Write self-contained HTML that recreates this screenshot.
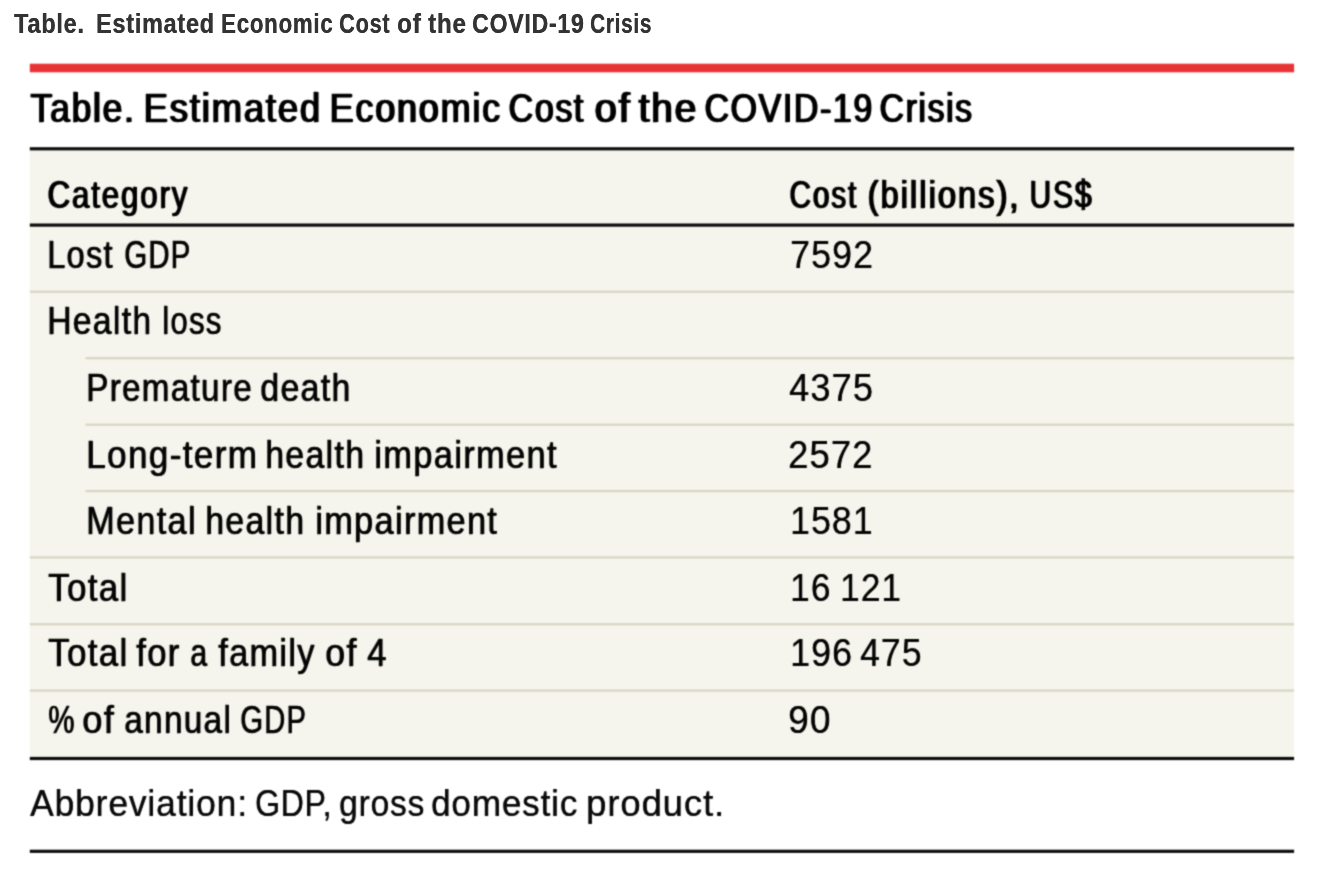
<!DOCTYPE html>
<html lang="en">
<head>
<meta charset="utf-8">
<title>Table. Estimated Economic Cost of the COVID-19 Crisis</title>
<style>
html,body{margin:0;padding:0;background:#fff}
body{width:1342px;height:883px;position:relative;overflow:hidden;font-family:'Liberation Sans', sans-serif}
figure{margin:0;padding:0}
.table-image{position:absolute;left:0;top:0;width:1342px;height:883px;filter:url(#soft);}
.rules{position:absolute;left:0;top:0;width:1342px;height:883px;display:block}
.w{position:absolute;display:block;white-space:pre;line-height:1;margin:0;padding:0;transform-origin:0 0;font-family:'Liberation Sans', sans-serif;font-weight:400;font-style:normal}
table{border-collapse:collapse;border-spacing:0;margin:0;padding:0}
td,th{padding:0;margin:0;border:0;font-weight:400;text-align:left}
h1,h2,p,figcaption{margin:0;padding:0;font-weight:400}
.cap .w{font-size:26.8px;color:#333333;-webkit-text-stroke:0px #333333;text-shadow:0.4px 0 0 #333333;letter-spacing:0.9px;font-weight:700}
.title .w{font-size:40.6px;color:#000000;-webkit-text-stroke:0.45px #000000;text-shadow:1.8px 0 0 #000000;letter-spacing:2.0px}
.head .w{font-size:38.8px;color:#000000;-webkit-text-stroke:0.45px #000000;text-shadow:1.75px 0 0 #000000;letter-spacing:2.4px}
.row .w{font-size:39.2px;color:#050505;-webkit-text-stroke:0.3px #050505;text-shadow:0.85px 0 0 #050505;letter-spacing:1.6px}
.num .w{font-size:39.2px;color:#050505;-webkit-text-stroke:0px #050505;text-shadow:0.3px 0 0 #050505;letter-spacing:1.2px}
.foot .w{font-size:37.4px;color:#0a0a0a;-webkit-text-stroke:0.1px #0a0a0a;text-shadow:0.25px 0 0 #0a0a0a;letter-spacing:0.9px}
</style>
</head>
<body>
<svg width="0" height="0" style="position:absolute" aria-hidden="true"><defs><filter id="soft" x="0" y="0" width="100%" height="100%" color-interpolation-filters="sRGB"><feConvolveMatrix order="3" kernelMatrix="0.0400 0.1200 0.0400 0.1200 0.3600 0.1200 0.0400 0.1200 0.0400" divisor="1" edgeMode="duplicate" preserveAlpha="false"/></filter></defs></svg>
<figure>
<figcaption class="cap"><span class="w" style="left:14.03px;top:11px;transform:scaleX(0.8735)">Table.</span>  <span class="w" style="left:96.34px;top:11px;transform:scaleX(0.8712)">Estimated</span> <span class="w" style="left:220.71px;top:11px;transform:scaleX(0.8302)">Economic</span> <span class="w" style="left:339.01px;top:11px;transform:scaleX(0.8099)">Cost</span> <span class="w" style="left:396.54px;top:11px;transform:scaleX(0.9024)">of</span> <span class="w" style="left:427.74px;top:11px;transform:scaleX(0.8991)">the</span> <span class="w" style="left:472.06px;top:11px;transform:scaleX(0.8592)">COVID-19</span> <span class="w" style="left:590.35px;top:11px;transform:scaleX(0.7751)">Crisis</span></figcaption>
<div class="table-image">
<svg class="rules" width="1342" height="883" viewBox="0 0 1342 883" aria-hidden="true">
<rect x="29.8" y="63.7" width="1264.3" height="8.6" fill="#e83336"/>
<rect x="29.8" y="148.7" width="1264.3" height="609.6" fill="#f5f5ed"/>
<rect x="29.8" y="290.65" width="1264.3" height="2.3" fill="#d9d5c6"/>
<rect x="85.6" y="357.05" width="1208.5" height="2.3" fill="#d9d5c6"/>
<rect x="85.6" y="423.55" width="1208.5" height="2.3" fill="#d9d5c6"/>
<rect x="85.6" y="489.95" width="1208.5" height="2.3" fill="#d9d5c6"/>
<rect x="29.8" y="556.25" width="1264.3" height="2.3" fill="#d9d5c6"/>
<rect x="29.8" y="623.05" width="1264.3" height="2.3" fill="#d9d5c6"/>
<rect x="29.8" y="689.45" width="1264.3" height="2.3" fill="#d9d5c6"/>
<rect x="29.8" y="147.20" width="1264.3" height="3.2" fill="#0c0c0c"/>
<rect x="29.8" y="223.50" width="1264.3" height="3.2" fill="#0c0c0c"/>
<rect x="29.8" y="756.90" width="1264.3" height="3.2" fill="#0c0c0c"/>
<rect x="29.8" y="849.70" width="1264.3" height="3.2" fill="#0c0c0c"/>
</svg>
<h2 class="title"><span class="w" style="left:30.26px;top:88px;transform:scaleX(0.8730)">Table.</span> <span class="w" style="left:143.16px;top:88px;transform:scaleX(0.8987)">Estimated</span> <span class="w" style="left:328.70px;top:88px;transform:scaleX(0.8867)">Economic</span> <span class="w" style="left:508.45px;top:88px;transform:scaleX(0.8359)">Cost</span> <span class="w" style="left:594.15px;top:88px;transform:scaleX(0.9729)">of</span> <span class="w" style="left:638.19px;top:88px;transform:scaleX(0.9510)">the</span> <span class="w" style="left:703.95px;top:88px;transform:scaleX(0.8331)">COVID-19</span> <span class="w" style="left:878.96px;top:88px;transform:scaleX(0.8288)">Crisis</span></h2>
<table>
<thead class="head">
<tr>
<th><span class="w" style="left:47.49px;top:176px;transform:scaleX(0.8023)">Category</span></th>
<th><span class="w" style="left:788.65px;top:176px;transform:scaleX(0.7667)">Cost</span> <span class="w" style="left:867.31px;top:176px;transform:scaleX(0.8420)">(billions),</span> <span class="w" style="left:1028.56px;top:176px;transform:scaleX(0.7720)">US$</span></th>
</tr>
</thead>
<tbody class="row">
<tr>
<td><span class="w" style="left:46.81px;top:235px;transform:scaleX(0.8279)">Lost</span> <span class="w" style="left:123.63px;top:235px;transform:scaleX(0.7497)">GDP</span></td>
<td class="num"><span class="w" style="left:790.17px;top:235px;transform:scaleX(0.9119)">7592</span></td>
</tr>
<tr>
<td><span class="w" style="left:46.72px;top:301px;transform:scaleX(0.8559)">Health</span> <span class="w" style="left:161.58px;top:301px;transform:scaleX(0.7932)">loss</span></td>
<td class="num"></td>
</tr>
<tr class="sub">
<td><span class="w" style="left:86.06px;top:368px;transform:scaleX(0.8452)">Premature</span> <span class="w" style="left:260.43px;top:368px;transform:scaleX(0.8617)">death</span></td>
<td class="num"><span class="w" style="left:788.96px;top:368px;transform:scaleX(0.9233)">4375</span></td>
</tr>
<tr class="sub">
<td><span class="w" style="left:85.51px;top:435px;transform:scaleX(0.8915)">Long-term</span> <span class="w" style="left:265.36px;top:435px;transform:scaleX(0.8596)">health</span> <span class="w" style="left:373.89px;top:435px;transform:scaleX(0.8754)">impairment</span></td>
<td class="num"><span class="w" style="left:788.37px;top:435px;transform:scaleX(0.9287)">2572</span></td>
</tr>
<tr class="sub">
<td><span class="w" style="left:85.98px;top:501px;transform:scaleX(0.8697)">Mental</span> <span class="w" style="left:205.36px;top:501px;transform:scaleX(0.8596)">health</span> <span class="w" style="left:314.60px;top:501px;transform:scaleX(0.8720)">impairment</span></td>
<td class="num"><span class="w" style="left:789.88px;top:501px;transform:scaleX(0.9080)">1581</span></td>
</tr>
<tr>
<td><span class="w" style="left:48.34px;top:568px;transform:scaleX(0.8860)">Total</span></td>
<td class="num"><span class="w" style="left:789.90px;top:568px;transform:scaleX(0.8993)">16</span> <span class="w" style="left:839.61px;top:568px;transform:scaleX(0.8982)">121</span></td>
</tr>
<tr>
<td><span class="w" style="left:48.34px;top:633px;transform:scaleX(0.8860)">Total</span> <span class="w" style="left:136.38px;top:633px;transform:scaleX(0.8771)">for</span> <span class="w" style="left:189.93px;top:633px;transform:scaleX(0.7707)">a</span> <span class="w" style="left:218.19px;top:633px;transform:scaleX(0.8714)">family</span> <span class="w" style="left:325.17px;top:633px;transform:scaleX(0.9045)">of</span> <span class="w" style="left:366.60px;top:633px;transform:scaleX(0.8791)">4</span></td>
<td class="num"><span class="w" style="left:789.55px;top:633px;transform:scaleX(0.9153)">196</span> <span class="w" style="left:860.18px;top:633px;transform:scaleX(0.9055)">475</span></td>
</tr>
<tr>
<td><span class="w" style="left:47.52px;top:700px;transform:scaleX(0.7514)">%</span> <span class="w" style="left:82.15px;top:700px;transform:scaleX(0.9193)">of</span> <span class="w" style="left:123.71px;top:700px;transform:scaleX(0.8476)">annual</span> <span class="w" style="left:240.34px;top:700px;transform:scaleX(0.7450)">GDP</span></td>
<td class="num"><span class="w" style="left:788.39px;top:700px;transform:scaleX(0.9493)">90</span></td>
</tr>
</tbody>
</table>
<p class="foot"><span class="w" style="left:29.87px;top:785px;transform:scaleX(0.9475)">Abbreviation:</span> <span class="w" style="left:255.14px;top:785px;transform:scaleX(0.8552)">GDP,</span> <span class="w" style="left:338.88px;top:785px;transform:scaleX(0.8969)">gross</span> <span class="w" style="left:431.12px;top:785px;transform:scaleX(0.9377)">domestic</span> <span class="w" style="left:585.97px;top:785px;transform:scaleX(0.9768)">product.</span></p>
</div>
</figure>
</body>
</html>
